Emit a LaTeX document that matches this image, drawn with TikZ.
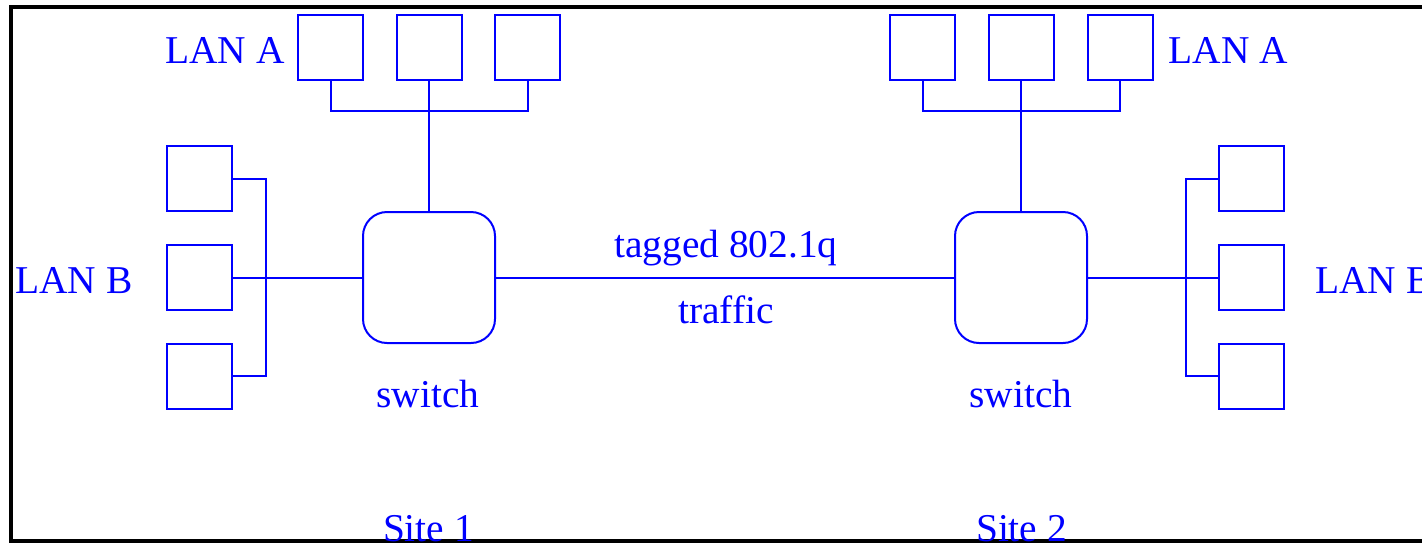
\documentclass[tikz,border=0pt]{standalone}
\usepackage{fontspec}
\setmainfont{Liberation Serif}
\usetikzlibrary{positioning}
\definecolor{lanblue}{RGB}{0,0,255}
\tikzset{
  host/.style={draw=lanblue, line width=1pt, minimum width=32.5pt, minimum height=32.5pt, inner sep=0pt},
  switchbox/.style={draw=lanblue, line width=1pt, rounded corners=12pt, minimum width=66pt, minimum height=65.5pt, inner sep=0pt},
  wire/.style={draw=lanblue, line width=1pt}
}
\tikzset{
  bluetext/.style={text=lanblue, font=\fontsize{19.7}{22}\selectfont, inner sep=0pt, anchor=base}
}

\begin{document}
\begin{tikzpicture}[x=0.5pt, y=-0.5pt]
      \useasboundingbox (0,0) rectangle (1422,542);
      \clip (0,0) rectangle (1422,542);
      \draw[line width=1.6pt] (11,7) rectangle (1440,541);
      % the two switches
      \node[switchbox] (sw1) at (429,277.5) {};
      \node[switchbox] (sw2) at (1021,277.5) {};
      % LAN A hosts, site 1 and site 2
      \node[host] (la1) at (330.5,47) {};
      \node[host] (la2) at (429,47) {};
      \node[host] (la3) at (527.5,47) {};
      \node[host] (ra1) at (922.5,47) {};
      \node[host] (ra2) at (1021,47) {};
      \node[host] (ra3) at (1120,47) {};
      % LAN B hosts
      \node[host] (lb1) at (199,178.5) {};
      \node[host] (lb2) at (199,277.5) {};
      \node[host] (lb3) at (199,376) {};
      \node[host] (rb1) at (1251,178.5) {};
      \node[host] (rb2) at (1251,277.5) {};
      \node[host] (rb3) at (1251,376) {};
      % LAN A buses down to the switches
      \draw[wire] (la1.south) -- ++(0,30) -| (la3.south);
      \draw[wire] (la2.south) -- (sw1.north);
      \draw[wire] (ra1.south) -- ++(0,30) -| (ra3.south);
      \draw[wire] (ra2.south) -- (sw2.north);
      % LAN B buses across to the switches
      \draw[wire] (lb1.east) -- ++(33,0) |- (lb3.east);
      \draw[wire] (lb2.east) -- (sw1.west);
      \draw[wire] (rb1.west) -- ++(-32,0) |- (rb3.west);
      \draw[wire] (sw2.east) -- (rb2.west);
      % trunk between the sites
      \draw[wire] (sw1.east) -- (sw2.west);
      \node[bluetext] (lanaL) at (225,63) {LAN A};
      \node[bluetext] (lanaR) at (1228.5,63) {LAN A};
      \node[bluetext] (lanbL) at (74,293) {LAN B};
      \node[bluetext] (lanbR) at (1374,293) {LAN B};
      \node[bluetext] (tag) at (726,257) {tagged 802.1q};
      \node[bluetext] (traf) at (726,323) {traffic};
      \node[bluetext] (swl1) at (428,407) {switch};
      \node[bluetext] (swl2) at (1021,407) {switch};
      \node[bluetext] (site1) at (428.5,541) {Site 1};
      \node[bluetext] (site2) at (1021.5,541) {Site 2};
    \end{tikzpicture}
\end{document}
